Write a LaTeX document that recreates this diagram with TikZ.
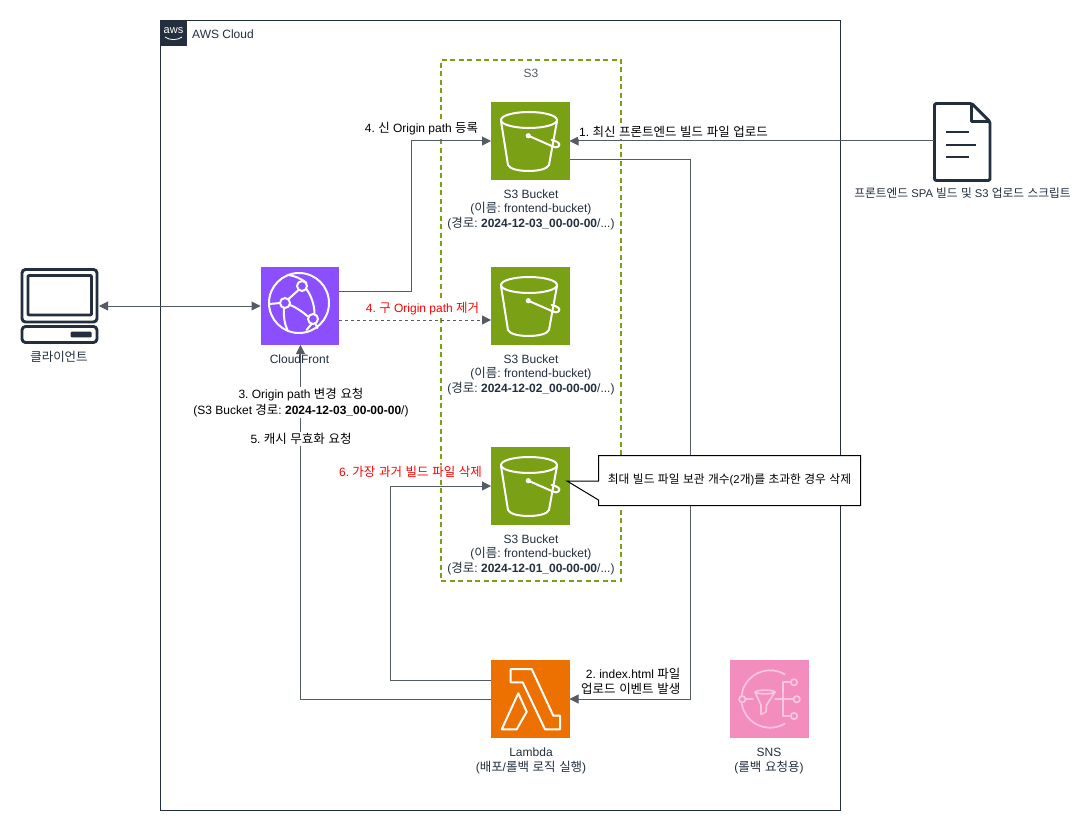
\documentclass[tikz,border=0pt]{standalone}
\usepackage{fontspec}
\setmainfont{Liberation Sans}
\newfontfamily\krfont[Scale=1.04,WordSpace=1.3]{Noto Sans CJK KR}
\usetikzlibrary{arrows.meta}
\newcommand{\K}[1]{{\krfont #1}}
\definecolor{ink}{HTML}{232F3E}
\definecolor{wire}{HTML}{545B64}
\definecolor{s3green}{HTML}{7AA116}
\definecolor{lamorange}{HTML}{ED7100}
\definecolor{cfpurple}{HTML}{8C4FFF}
\definecolor{snspink}{HTML}{F38DBE}
\definecolor{snsline}{HTML}{FBC6E0}
\definecolor{redtxt}{HTML}{FF0000}
\tikzset{
  x=1pt,y=-1pt,
  txt/.style={font=\fontsize{12}{14.5}\selectfont\frenchspacing,align=center,inner sep=0pt,text=ink},
  blk/.style={font=\fontsize{12}{14.5}\selectfont\frenchspacing,align=center,inner sep=0pt,text=black},
  wbg/.style={fill=white,inner sep=1pt},
  redlab/.style={font=\fontsize{12}{14.5}\selectfont\frenchspacing,align=center,inner sep=0pt,text=redtxt},
  conn/.style={draw=wire,line width=1pt,-{Triangle[length=9pt,width=9pt]}},
  bi/.style={{Triangle[length=9pt,width=9pt]}-{Triangle[length=9pt,width=9pt]},draw=wire,line width=1pt},
  iconbox/.style={rectangle,minimum width=78.5pt,minimum height=78pt,inner sep=0pt,outer sep=0pt,anchor=north west},
  groupbox/.style={rectangle,inner sep=0pt,outer sep=0pt,anchor=north west},
  wl/.style={draw=white,line width=2pt,line join=round,line cap=round},
  pl/.style={draw=snsline,line width=1.7pt,line join=round,line cap=round},
  dk/.style={draw=ink,line width=2.9pt,line join=round},
}
\newcommand{\bucketicon}[2]{%
  \node[iconbox,fill=s3green] (#1) at (491,#2) {};
  \begin{scope}[shift={(491,#2)}]
    \draw[wl] (38,18) ellipse [x radius=28,y radius=8];
    \draw[wl] (10,19) -- (17,63) .. controls (20,71) and (55,71) .. (58,63) -- (66,19);
    \fill[white] (37.3,33.7) circle [radius=2.6];
    \draw[wl] (37.3,33.7) -- (62.3,44.7) .. controls (66,46.5) and (69,44) .. (68.3,42) .. controls (67.5,40) and (63,38.5) .. (60.7,38);
  \end{scope}}
\newcommand{\bucketlabel}[1]{S3 Bucket\\(\K{이름}: frontend-bucket)\\(\K{경로}: \textbf{#1}/...)}
\begin{document}
\begin{tikzpicture}
\fill[white] (0,0) rectangle (1088,832);
\useasboundingbox (0,0) rectangle (1088,832);

% AWS group
\node[groupbox,draw=ink,line width=1pt,minimum width=680pt,minimum height=790pt] (aws) at (160.5,20.5) {};
\node[groupbox,fill=ink,minimum size=26pt] (awslogo) at (160.5,20.5) {};
\node[inner sep=0pt,text=white,font=\fontsize{11}{10}\selectfont] (awsword) at (173.5,31) {aws};
\draw[white,line width=0.8pt] (165,37) .. controls (170,40.5) and (177,40.5) .. (182,37);
\node[txt,anchor=west] (awstitle) at (192,34) {AWS Cloud};

% S3 group
\node[groupbox,draw=s3green,dash pattern=on 5pt off 3.5pt,line width=1.6pt,minimum width=180pt,minimum height=521pt] (s3grp) at (441,60) {};
\node[txt,text=wire] (s3title) at (531,73.5) {S3};

% Service nodes
\bucketicon{b1}{102}
\bucketicon{b2}{267}
\bucketicon{b3}{447}

\node[iconbox,fill=cfpurple] (cf) at (260.5,267) {};
\begin{scope}[shift={(260.5,267)}]
  \draw[wl] (38.5,36) circle [radius=30];
  \draw[wl,fill=cfpurple] (41.5,19) circle [radius=5];
  \draw[wl,fill=cfpurple] (24.5,36) circle [radius=5];
  \draw[wl,fill=cfpurple] (52.5,52) circle [radius=5];
  \draw[wl] (37.5,23.5) -- (28,32);
  \draw[wl] (29.5,38) .. controls (37,41) and (42,45) .. (47.5,49.5);
  \draw[wl] (45.5,21.5) .. controls (51,29) and (54,38) .. (54,47);
  \draw[wl] (19.5,36) -- (9,37);
  \draw[wl] (23.5,41) .. controls (23,50) and (24,57) .. (27,63);
  \draw[wl] (46,16) .. controls (40,11) and (34,9) .. (28,8);
  \draw[wl] (55,57) -- (57,61);
  \draw[wl] (51,57) -- (46,63);
\end{scope}

\node[iconbox,fill=lamorange] (lam) at (491,660) {};
\begin{scope}[shift={(480,650)}]
  \draw[wl] (30.7,19) -- (51.7,19) -- (73.3,65.7) -- (80,65.7) -- (80,79.3) -- (65,79.3) -- (42.7,32.3) -- (30.7,32.3) -- cycle;
  \draw[wl] (38.3,43.3) -- (46.7,61.7) -- (36.7,79.3) -- (21.7,79.3) -- cycle;
\end{scope}

\node[iconbox,fill=snspink] (sns) at (730,660) {};
\begin{scope}[shift={(720,650)}]
  \draw[pl] (64.8,24.4) arc [start angle=-59,end angle=-301,radius=28.7];
  \draw[pl,fill=snspink] (22.3,49.3) circle [radius=3.2];
  \draw[pl] (25.5,49.3) -- (33,49.3);
  \draw[pl] (35,42) .. controls (37,39.5) and (53,39.5) .. (55,42) .. controls (53,44.5) and (37,44.5) .. (35,42);
  \draw[pl] (35,42) -- (41,55) -- (41,64.5) -- (46,62) -- (46.5,55) -- (55,42);
  \draw[pl] (55,49.3) -- (74,49.3);
  \draw[pl] (63.3,32.3) -- (63.3,66);
  \draw[pl] (63.3,32.3) -- (70.5,32.3);
  \draw[pl] (63.3,66) -- (70.5,66);
  \draw[pl] (74,32.3) circle [radius=3.2];
  \draw[pl] (76.7,49.3) circle [radius=3.2];
  \draw[pl] (74,66) circle [radius=3.2];
\end{scope}

% Client computer
\node[groupbox,draw=ink,line width=2.9pt,rounded corners=3.5pt,minimum width=75pt,minimum height=52.5pt] (pc) at (22,269.5) {};
\draw[dk,rounded corners=1pt] (28,275.5) rectangle (91.5,315);
\draw[dk,rounded corners=3.5pt] (22,326.5) rectangle (97,342.5);
\fill[ink,rounded corners=1pt] (70.7,331.7) rectangle (91.7,337.3);

% Document
\coordinate (docw) at (934,141);
\draw[dk,rounded corners=1.5pt] (934.5,103.5) -- (971.7,103.5) -- (990,121.7) -- (990,180.5) -- (934.5,180.5) -- cycle;
\draw[dk] (971.7,103.5) -- (971.7,121.7) -- (990,121.7);
\draw[ink,line width=2.3pt] (946,132.3) -- (969,132.3) (946,145) -- (976,145) (946,157.3) -- (969,157.3);

% Port coordinates
\coordinate (b1o) at (569.5,160);
\coordinate (b1i) at (569.5,141);
\coordinate (b1l) at (491,141);
\coordinate (cfo1) at (339,291);
\coordinate (cfo2) at (339,320);
\coordinate (b2i) at (491,320);
\coordinate (b3i) at (491,486);
\coordinate (lamo1) at (491,680);
\coordinate (lamo2) at (491,699);
\coordinate (lami) at (569.5,699);
\coordinate (cfs) at (300.5,345);
\coordinate (cfw) at (260.5,306);
\coordinate (pce) at (99,306);
\coordinate (b3tip) at (567,481);

% Connectors
\draw[conn] (docw) -- (b1i);
\draw[conn] (cfo1) -- (411,291) -- (411,141) -- (b1l);
\draw[conn,dashed] (cfo2) -- (b2i);
\draw[bi] (pce) -- (cfw);
\draw[conn] (lamo2) -- (300.5,699) -- (cfs);
\draw[conn] (lamo1) -- (390,680) -- (390,486) -- (b3i);
\draw[conn] (b1o) -- (690.5,160) -- (690.5,699) -- (lami);

% Callout
\draw[black,fill=white,line width=1pt] (b3tip) -- (598.5,481) -- (598.5,455.5) -- (860.5,455.5) -- (860.5,505.5) -- (598.5,505.5) -- (598.5,500) -- cycle;
\node[blk,font=\fontsize{11.3}{13}\selectfont\frenchspacing] (calltxt) at (729.5,480) {\K{최대 빌드 파일 보관 개수}(2\K{개})\K{를 초과한 경우 삭제}};

% Labels
\node[txt] (l1) at (531,209.5) {\bucketlabel{2024-12-03\_00-00-00}};
\node[txt] (l2) at (531,374.5) {\bucketlabel{2024-12-02\_00-00-00}};
\node[txt] (l3) at (531,554.5) {\bucketlabel{2024-12-01\_00-00-00}};
\node[txt] (lcf) at (299.5,359.5) {CloudFront};
\node[txt] (lclient) at (59,357) {\K{클라이언트}};
\node[txt,font=\fontsize{11.25}{14}\selectfont\frenchspacing] (ldoc) at (962.5,193) {\K{프론트엔드} SPA \K{빌드 및} S3 \K{업로드 스크립트}};
\node[txt] (llam) at (531,761) {Lambda\\(\K{배포}/\K{롤백 로직 실행})};
\node[txt] (lsns) at (769,761) {SNS\\(\K{롤백 요청용})};
\node[blk,wbg,anchor=west] (e1) at (578,132) {1. \K{최신 프론트엔드 빌드 파일 업로드}};
\node[blk,wbg] (e4a) at (421.5,129) {4. \K{신} Origin path \K{등록}};
\node[redlab,wbg] (e4b) at (422.5,308.5) {4. \K{구} Origin path \K{제거}};
\node[redlab,wbg] (e6) at (410.5,472) {6. \K{가장 과거 빌드 파일 삭제}};
\node[blk,wbg] (e3) at (301,402.5) {3. Origin path \K{변경 요청}\\[1.5pt](S3 Bucket \K{경로}: \textbf{2024-12-03\_00-00-00}/)};
\node[blk,wbg] (e5) at (301,439) {5. \K{캐시 무효화 요청}};
\node[blk,wbg,align=right,anchor=east] (e2) at (681.5,681.5) {2. index.html \K{파일}\\[1pt]\K{업로드 이벤트 발생}};
\end{tikzpicture}
\end{document}
